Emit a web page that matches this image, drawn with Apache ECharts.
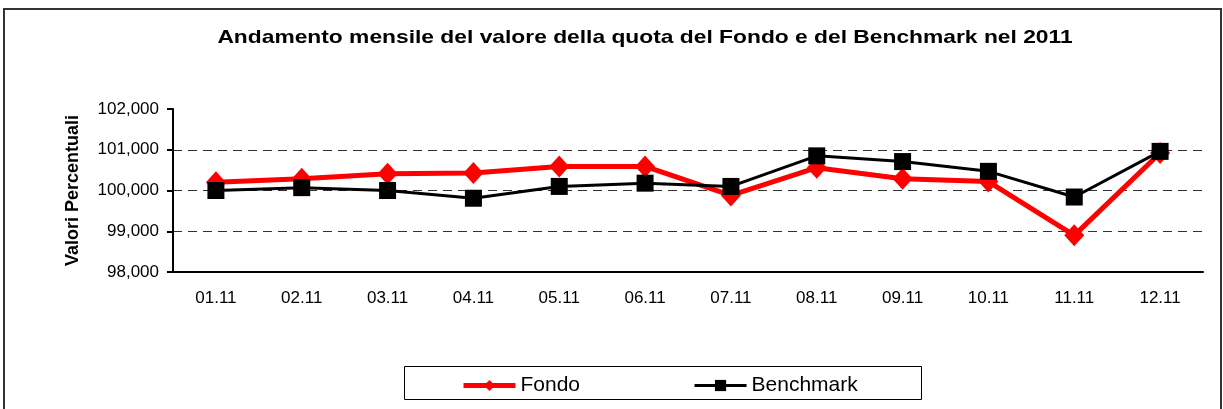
<!DOCTYPE html>
<html>
<head>
<meta charset="utf-8">
<script src="https://cdn.jsdelivr.net/npm/echarts@6/dist/echarts.min.js"></script>
<style>
html, body { margin: 0; padding: 0; background: #fff; }
#chart { width: 1223px; height: 409px; }
</style>
</head>
<body>
<div id="chart"></div>
<script>
// mesi 2011
const mesi = ['01.11', '02.11', '03.11', '04.11', '05.11', '06.11', '07.11', '08.11', '09.11', '10.11', '11.11', '12.11']
const fondo = [100.20, 100.29, 100.41, 100.43, 100.59, 100.59, 99.88, 100.56, 100.29, 100.22, 98.90, 100.92]
const benchmark = [100.00, 100.07, 100.00, 99.81, 100.10, 100.18, 100.10, 100.85, 100.71, 100.47, 99.84, 100.96]

const titolo = 'Andamento mensile del valore della quota del Fondo e del Benchmark nel 2011'
const font = 'Arial, "Liberation Sans", sans-serif'

let chart = echarts.init(document.getElementById('chart'))
chart.setOption({
    animation: false,
    textStyle: { fontFamily: font },
    graphic: [
        { type: 'rect', shape: { x: 4, y: 9, width: 1217, height: 420 },
          style: { fill: 'none', stroke: '#333', lineWidth: 2 }, silent: true },
        { type: 'rect', shape: { x: 404.5, y: 366.5, width: 517, height: 33 },
          style: { fill: 'none', stroke: '#000', lineWidth: 1 }, silent: true },
        // titolo un po' allargato come nell'originale
        { type: 'text', x: 645, y: 38, scaleX: 1.2, silent: true,
          style: { text: titolo, font: 'bold 19px ' + font, fill: '#000',
                   textAlign: 'center', textVerticalAlign: 'middle' } }
    ],
    legend: {
        data: [
            { name: 'Fondo', lineStyle: { width: 5 } },
            { name: 'Benchmark', lineStyle: { width: 3 } }
        ],
        left: 461,
        top: 375,
        padding: 0,
        itemWidth: 52,
        itemHeight: 14,
        itemGap: 113,
        textStyle: { fontFamily: font, fontSize: 21, color: '#000' }
    },
    grid: { left: 173, right: 20, top: 109, bottom: 137 },
    xAxis: {
        type: 'category',
        data: mesi,
        axisLine: { lineStyle: { color: '#000', width: 2 } },
        axisTick: { length: 6, lineStyle: { color: '#000', width: 2 } },
        axisLabel: { color: '#000', fontSize: 17, margin: 18 }
    },
    yAxis: {
        type: 'value',
        min: 98,
        max: 102,
        interval: 1,
        name: 'Valori Percentuali',
        nameLocation: 'middle',
        nameGap: 91,
        nameTextStyle: { fontSize: 18, fontWeight: 'bold', color: '#000' },
        axisLine: { show: true, lineStyle: { color: '#000', width: 2 } },
        axisTick: { show: true, length: 6, lineStyle: { color: '#000', width: 2 } },
        axisLabel: {
            color: '#000', fontSize: 17, margin: 14,
            formatter: v => v.toFixed(3).replace('.', ',')
        },
        splitLine: {
            show: true,
            lineStyle: { color: ['transparent', '#333', '#333', '#333', 'transparent'], type: [9, 6], width: 1 }
        }
    },
    series: [
        {
            name: 'Fondo',
            type: 'line',
            data: fondo,
            symbol: 'diamond',
            symbolSize: [20, 22],
            lineStyle: { color: '#ff0000', width: 5 },
            itemStyle: { color: '#ff0000' }
        },
        {
            name: 'Benchmark',
            type: 'line',
            data: benchmark,
            symbol: 'rect',
            symbolSize: 17,
            lineStyle: { color: '#000', width: 3 },
            itemStyle: { color: '#000' }
        }
    ]
})
</script>
</body>
</html>
